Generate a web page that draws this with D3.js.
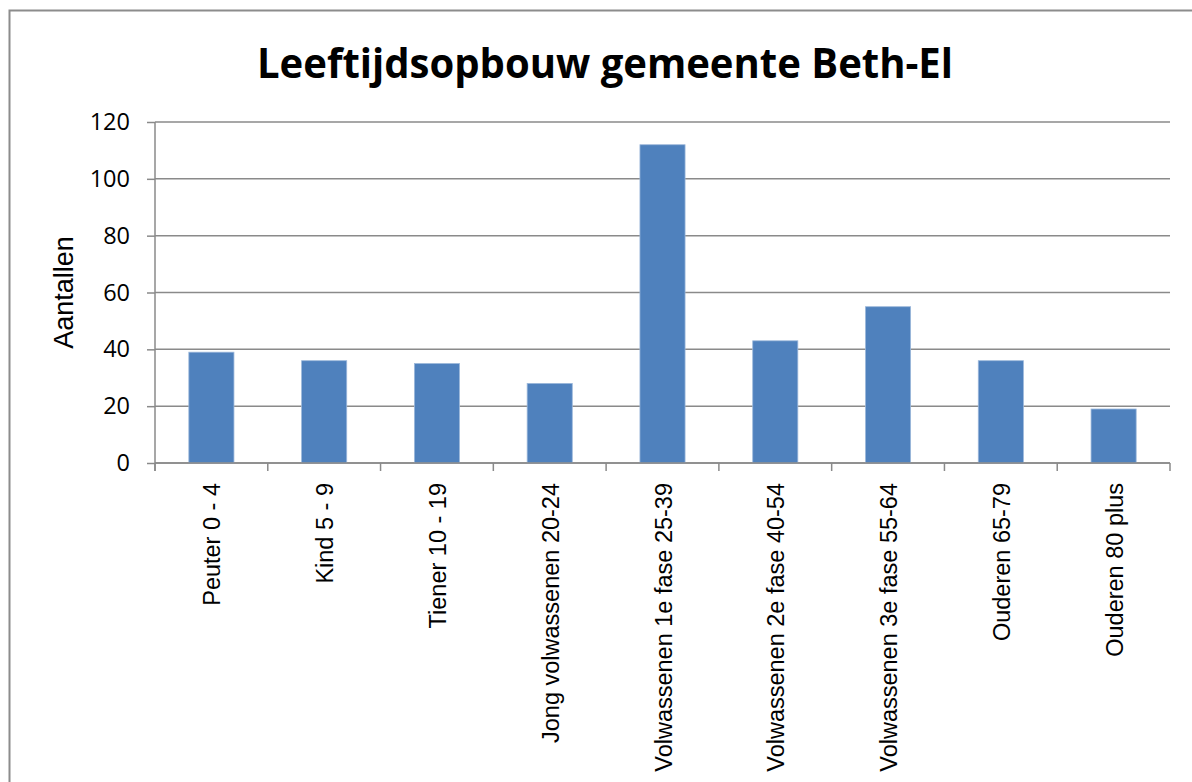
<!DOCTYPE html>
<html>
<head>
<meta charset="utf-8">
<script src="https://cdn.jsdelivr.net/npm/d3@7"></script>
<style>
	body { margin: 0; background: #fff; }
	svg { display: block; }
</style>
</head>
<body>
<svg id="chart" width="1192" height="782"></svg>
<script>
// values
const categories = ["Peuter 0 - 4", "Kind 5 - 9", "Tiener 10 - 19", "Jong volwassenen 20-24",
	"Volwassenen 1e fase 25-39", "Volwassenen 2e fase 40-54", "Volwassenen 3e fase 55-64",
	"Ouderen 65-79", "Ouderen 80 plus"];
const counts = [39, 36, 35, 28, 112, 43, 55, 36, 19];
const yTicks = [0, 20, 40, 60, 80, 100, 120];

const svg = d3.select("#chart");
const margin = {left: 155, right: 22, top: 122, bottom: 319};
const width = 1192, height = 782;

// outer frame (only top & left edges are visible in the picture)
svg.append("rect")
	.attr("x", 9.5).attr("y", 10.5)
	.attr("width", 1300).attr("height", 1000)
	.attr("fill", "none").attr("stroke", "#8c8c8c").attr("stroke-width", 2);

svg.append("text")
	.attr("x", 605).attr("y", 78)
	.attr("text-anchor", "middle")
	.attr("font-family", "'Open Sans', sans-serif")
	.attr("font-weight", "bold")
	.attr("font-size", 41)
	.attr("textLength", 696).attr("lengthAdjust", "spacingAndGlyphs")
	.text("Leeftijdsopbouw gemeente Beth-El");

const x = d3.scaleBand()
	.domain(categories)
	.range([margin.left, width - margin.right])
	.paddingInner(0.6).paddingOuter(0.3);

const y = d3.scaleLinear()
	.domain([0, 120])
	.range([height - margin.bottom, margin.top]);

// gridlines
svg.append("g")
	.selectAll("line")
	.data(yTicks)
	.join("line")
	.attr("x1", margin.left).attr("x2", width - margin.right)
	.attr("y1", d => y(d)).attr("y2", d => y(d))
	.attr("stroke", "#8a8a8a").attr("stroke-width", 1.5);

// bars
svg.append("g")
	.selectAll("rect")
	.data(counts)
	.join("rect")
	.attr("x", (d, i) => x(categories[i]))
	.attr("y", d => y(d))
	.attr("width", x.bandwidth())
	.attr("height", d => y(0) - y(d))
	.attr("fill", "#4f81bd")
	.attr("stroke", "#9bb7da").attr("stroke-width", 0.8);

// y axis
const yAxis = svg.append("g")
	.attr("transform", `translate(${margin.left},0)`)
	.call(d3.axisLeft(y).tickValues(yTicks).tickSize(8).tickPadding(17));
yAxis.selectAll("line, path").attr("stroke", "#8a8a8a").attr("stroke-width", 1.5);
yAxis.select(".domain").attr("d", `M0,${y(120)}V${y(0) + 8}`);
yAxis.selectAll("text")
	.attr("font-family", "'Open Sans', sans-serif")
	.attr("font-size", 23.5)
	.attr("fill", "#000");

// x axis: ticks on category boundaries
const bounds = d3.range(categories.length + 1).map(i => margin.left + i * (width - margin.left - margin.right) / categories.length);
const xAxisG = svg.append("g");
xAxisG.append("line")
	.attr("x1", margin.left).attr("x2", width - margin.right)
	.attr("y1", y(0)).attr("y2", y(0))
	.attr("stroke", "#8a8a8a").attr("stroke-width", 1.5);
xAxisG.selectAll("line.tick")
	.data(bounds)
	.join("line")
	.attr("class", "tick")
	.attr("x1", d => d).attr("x2", d => d)
	.attr("y1", y(0)).attr("y2", y(0) + 8)
	.attr("stroke", "#8a8a8a").attr("stroke-width", 1.5);

xAxisG.selectAll("text")
	.data(categories)
	.join("text")
	.attr("transform", d => `translate(${x(d) + x.bandwidth() / 2 + 9},${y(0) + 20}) rotate(-90)`)
	.attr("text-anchor", "end")
	.attr("font-family", "'Liberation Sans', Arial, sans-serif")
	.attr("font-size", 23.5)
	.text(d => d);

// y axis title
svg.append("text")
	.attr("transform", `translate(73,${(y(0) + y(120)) / 2}) rotate(-90)`)
	.attr("text-anchor", "middle")
	.attr("font-family", "'Liberation Sans', Arial, sans-serif")
	.attr("font-size", 27)
	.text("Aantallen");
</script>
</body>
</html>
